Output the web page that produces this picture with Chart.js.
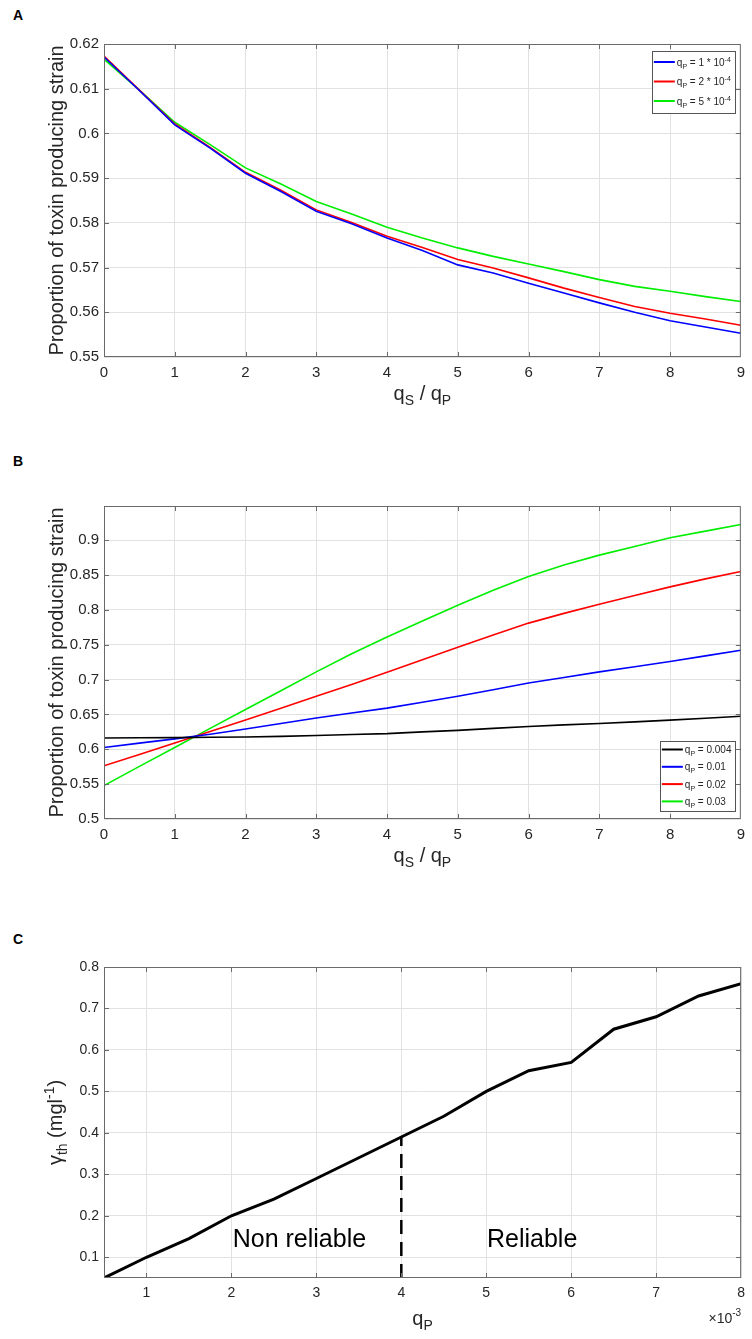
<!DOCTYPE html>
<html>
<head>
<meta charset="utf-8">
<script src="https://cdn.jsdelivr.net/npm/chart.js@4.4.1/dist/chart.umd.min.js"></script>
<style>
html,body{margin:0;padding:0;background:#fff;}
body{width:752px;height:1339px;position:relative;overflow:hidden;font-family:"Liberation Sans",Arial,sans-serif;}
.panel{position:absolute;left:0;width:752px;}
.letter{position:absolute;left:13px;font:bold 14px "Liberation Sans",Arial,sans-serif;color:#000;line-height:16px;}
</style>
</head>
<body>
<div class="letter" style="top:7px">A</div>
<div class="letter" style="top:453px">B</div>
<div class="letter" style="top:931px">C</div>
<div class="panel" style="top:0;height:410px"><canvas id="cA"></canvas></div>
<div class="panel" style="top:420px;height:455px"><canvas id="cB"></canvas></div>
<div class="panel" style="top:880px;height:459px"><canvas id="cC"></canvas></div>
<script>
// ---------------- DATA ----------------
// Panel A : proportion of toxin producing strain vs qS/qP
const ratioA = [0,0.5,1,1.5,2,2.5,3,3.5,4,4.5,5,5.5,6,6.5,7,7.5,8,8.5,9];
const propA_qP1 = [0.6171,0.6096,0.6019,0.5967,0.5911,0.5870,0.5826,0.5798,0.5766,0.5738,0.5706,0.5688,0.5665,0.5643,0.5621,0.5600,0.5581,0.5567,0.5553];
const propA_qP2 = [0.6173,0.6097,0.6021,0.5969,0.5913,0.5873,0.5829,0.5801,0.5770,0.5745,0.5718,0.5699,0.5677,0.5654,0.5633,0.5613,0.5598,0.5585,0.5571];
const propA_qP5 = [0.6166,0.6097,0.6025,0.5975,0.5923,0.5887,0.5848,0.5820,0.5790,0.5766,0.5744,0.5725,0.5708,0.5691,0.5673,0.5658,0.5647,0.5635,0.5624];
const xTicksAB = [0,1,2,3,4,5,6,7,8,9];
const yTicksA = [0.55,0.56,0.57,0.58,0.59,0.6,0.61,0.62];

// Panel B : proportion vs qS/qP for several qP
const ratioB = [0,0.5,1,1.5,2,2.5,3,3.5,4,4.5,5,5.5,6,6.5,7,7.5,8,8.5,9];
const propB_004 = [0.6162,0.6165,0.6168,0.6172,0.6176,0.6185,0.6198,0.6212,0.6225,0.6250,0.6272,0.6300,0.6328,0.6350,0.6370,0.6393,0.6418,0.6446,0.6474];
const propB_01  = [0.6025,0.6088,0.6150,0.6215,0.6290,0.6370,0.6450,0.6520,0.6590,0.6675,0.6760,0.6855,0.6950,0.7030,0.7110,0.7185,0.7260,0.7340,0.7420];
const propB_02  = [0.5764,0.5925,0.6090,0.6255,0.6420,0.6590,0.6760,0.6930,0.7105,0.7285,0.7465,0.7640,0.7810,0.7950,0.8080,0.8205,0.8330,0.8445,0.8550];
const propB_03  = [0.5480,0.5755,0.6025,0.6300,0.6570,0.6840,0.7110,0.7370,0.7610,0.7840,0.8065,0.8280,0.8480,0.8645,0.8785,0.8910,0.9035,0.9130,0.9225];
const yTicksB = [0.5,0.55,0.6,0.65,0.7,0.75,0.8,0.85,0.9];

// Panel C : gamma_th vs qP (x10^-3)
const qP_e3 = [0.5,1,1.5,2,2.5,3,3.5,4,4.5,5,5.5,6,6.5,7,7.5,8];
const gammaTh = [0.05,0.10,0.145,0.20,0.24,0.29,0.34,0.39,0.44,0.50,0.55,0.57,0.65,0.68,0.73,0.76];
const reliableThreshold = 4;
const xTicksC = [1,2,3,4,5,6,7,8];
const yTicksC = [0.1,0.2,0.3,0.4,0.5,0.6,0.7,0.8];

// ---------------- HELPERS ----------------
const FONT = '"Liberation Sans", Arial, Helvetica, sans-serif';
Chart.defaults.font.family = FONT;
Chart.defaults.color = '#262626';

const pts = (xs, ys) => xs.map((x, i) => ({x: x, y: ys[i]}));
const fmt = v => String(+Number(v).toFixed(3));

function richWidth(ctx, parts) {
  let w = 0;
  parts.forEach(p => { ctx.font = p[1] + 'px ' + FONT; w += ctx.measureText(p[0]).width; });
  return w;
}
function drawRich(ctx, parts, x, y, align) {
  const w = richWidth(ctx, parts);
  let cx = align === 'center' ? x - w / 2 : (align === 'right' ? x - w : x);
  ctx.textAlign = 'left';
  ctx.textBaseline = 'alphabetic';
  parts.forEach(p => {
    ctx.font = (p[3] || '') + p[1] + 'px ' + FONT;
    ctx.fillText(p[0], cx, y + (p[2] || 0));
    cx += ctx.measureText(p[0]).width;
  });
}

const framePlugin = {
  id: 'frame',
  afterDatasetsDraw(chart, args, o) {
    const ctx = chart.ctx, a = chart.chartArea, xs = chart.scales.x, ys = chart.scales.y;
    ctx.save();
    // inward ticks
    ctx.strokeStyle = '#6a6a6a';
    ctx.lineWidth = 1;
    ctx.beginPath();
    xs.ticks.forEach(t => {
      const px = Math.round(xs.getPixelForValue(t.value)) + 0.5;
      if (px <= a.left + 1 || px >= a.right - 1) return;
      ctx.moveTo(px, a.bottom); ctx.lineTo(px, a.bottom - 5);
      ctx.moveTo(px, a.top); ctx.lineTo(px, a.top + 5);
    });
    ys.ticks.forEach(t => {
      const py = Math.round(ys.getPixelForValue(t.value)) + 0.5;
      if (py <= a.top + 1 || py >= a.bottom - 1) return;
      ctx.moveTo(a.left, py); ctx.lineTo(a.left + 5, py);
      ctx.moveTo(a.right, py); ctx.lineTo(a.right - 5, py);
    });
    ctx.stroke();
    // box
    ctx.strokeRect(a.left + 0.5, a.top + 0.5, a.right - a.left - 1, a.bottom - a.top - 1);

    // legend
    if (o.legend) {
      const L = o.legend;
      const lx = a.right - L.dxRight - L.w;
      const ly = L.fromBottom ? a.bottom - L.dyBottom - L.h : a.top + L.dyTop;
      ctx.fillStyle = '#ffffff';
      ctx.fillRect(lx, ly, L.w, L.h);
      ctx.strokeStyle = '#555555';
      ctx.lineWidth = 1;
      ctx.strokeRect(Math.round(lx) + 0.5, Math.round(ly) + 0.5, L.w, L.h);
      L.items.forEach((it, i) => {
        const cy = ly + L.first + i * L.step;
        ctx.strokeStyle = it.color;
        ctx.lineWidth = 2;
        ctx.beginPath();
        ctx.moveTo(lx + 2, cy); ctx.lineTo(lx + 23, cy);
        ctx.stroke();
        ctx.fillStyle = '#262626';
        drawRich(ctx, it.parts, lx + 25, cy + 3.5, 'left');
      });
    }

    // axis titles
    ctx.fillStyle = '#262626';
    drawRich(ctx, o.xTitle, (a.left + a.right) / 2, o.xTitleY, 'center');
    if (o.exponent) drawRich(ctx, o.exponent, a.right, o.exponentY, 'right');
    if (o.notes) {
      ctx.fillStyle = '#000';
      o.notes.forEach(n => drawRich(ctx, [[n.text, n.size]], xs.getPixelForValue(n.x), ys.getPixelForValue(n.y), 'center'));
    }
    ctx.fillStyle = '#262626';
    ctx.translate(o.yTitleX, (a.top + a.bottom) / 2);
    ctx.rotate(-Math.PI / 2);
    drawRich(ctx, o.yTitle, 0, 0, 'center');
    ctx.restore();
  }
};

function makeOptions(cfg) {
  return {
    responsive: true,
    maintainAspectRatio: false,
    animation: false,
    events: [],
    layout: {padding: {top: cfg.padTop, right: 10, left: 0, bottom: 0}},
    elements: {point: {radius: 0}, line: {tension: 0}},
    plugins: {legend: {display: false}, tooltip: {enabled: false}, frame: cfg.frame},
    scales: {
      x: {
        type: 'linear', min: cfg.xMin, max: cfg.xMax,
        afterBuildTicks: s => { s.ticks = cfg.xTicks.map(v => ({value: v})); },
        afterFit: s => { s.height = cfg.xAxisH; },
        grid: {color: '#e2e2e2', drawTicks: false, lineWidth: 1},
        border: {display: false},
        ticks: {font: {size: cfg.tickSize}, padding: 7, color: '#262626', maxRotation: 0, callback: v => fmt(v)}
      },
      y: {
        type: 'linear', min: cfg.yMin, max: cfg.yMax,
        afterBuildTicks: s => { s.ticks = cfg.yTicks.map(v => ({value: v})); },
        afterFit: s => { s.width = 104; },
        grid: {color: '#e2e2e2', drawTicks: false, lineWidth: 1},
        border: {display: false},
        ticks: {font: {size: cfg.tickSize}, padding: 5, color: '#262626', callback: v => fmt(v)}
      }
    }
  };
}

const qSqP = [['q', 20], ['S', 14, 5], [' / q', 20], ['P', 14, 5]];
const propTitle = [['Proportion of toxin producing strain', 20]];
const qpLabel = (rest, sup) => {
  const p = [['q', 10], ['P', 7, 3], [rest, 10]];
  if (sup) p.push([sup, 7, -4]);
  return p;
};

// ---------------- PANEL A ----------------
new Chart(document.getElementById('cA'), {
  type: 'line',
  data: {datasets: [
    {data: pts(ratioA, propA_qP1), borderColor: '#0000ff', borderWidth: 1.6},
    {data: pts(ratioA, propA_qP2), borderColor: '#ff0000', borderWidth: 1.6},
    {data: pts(ratioA, propA_qP5), borderColor: '#00ee00', borderWidth: 1.6}
  ]},
  options: makeOptions({
    padTop: 44, xAxisH: 53, xMin: 0, xMax: 9, yMin: 0.55, yMax: 0.62,
    xTicks: xTicksAB, yTicks: yTicksA, tickSize: 15,
    frame: {
      xTitle: qSqP, xTitleY: 400, yTitle: propTitle, yTitleX: 63,
      legend: {w: 83, h: 62, dxRight: 6, dyTop: 7, first: 11, step: 19.5, items: [
        {color: '#0000ff', parts: qpLabel(' = 1 * 10', '-4')},
        {color: '#ff0000', parts: qpLabel(' = 2 * 10', '-4')},
        {color: '#00ee00', parts: qpLabel(' = 5 * 10', '-4')}
      ]}
    }
  }),
  plugins: [framePlugin]
});

// ---------------- PANEL B ----------------
new Chart(document.getElementById('cB'), {
  type: 'line',
  data: {datasets: [
    {data: pts(ratioB, propB_004), borderColor: '#000000', borderWidth: 1.6},
    {data: pts(ratioB, propB_01), borderColor: '#0000ff', borderWidth: 1.6},
    {data: pts(ratioB, propB_02), borderColor: '#ff0000', borderWidth: 1.6},
    {data: pts(ratioB, propB_03), borderColor: '#00ee00', borderWidth: 1.6}
  ]},
  options: makeOptions({
    padTop: 86, xAxisH: 56, xMin: 0, xMax: 9, yMin: 0.5, yMax: 0.949,
    xTicks: xTicksAB, yTicks: yTicksB, tickSize: 15,
    frame: {
      xTitle: qSqP, xTitleY: 442, yTitle: propTitle, yTitleX: 63,
      legend: {w: 75, h: 70, dxRight: 6, fromBottom: true, dyBottom: 8, first: 8.5, step: 17.3, items: [
        {color: '#000000', parts: qpLabel(' = 0.004')},
        {color: '#0000ff', parts: qpLabel(' = 0.01')},
        {color: '#ff0000', parts: qpLabel(' = 0.02')},
        {color: '#00ee00', parts: qpLabel(' = 0.03')}
      ]}
    }
  }),
  plugins: [framePlugin]
});

// ---------------- PANEL C ----------------
const thrIdx = qP_e3.indexOf(reliableThreshold);
new Chart(document.getElementById('cC'), {
  type: 'line',
  data: {datasets: [
    {data: pts(qP_e3, gammaTh), borderColor: '#000000', borderWidth: 3},
    {data: [{x: reliableThreshold, y: 0.05}, {x: reliableThreshold, y: gammaTh[thrIdx]}],
     borderColor: '#000000', borderWidth: 2.5, borderDash: [14, 8]}
  ]},
  options: makeOptions({
    padTop: 87, xAxisH: 61, xMin: 0.5, xMax: 8, yMin: 0.05, yMax: 0.8,
    xTicks: xTicksC, yTicks: yTicksC, tickSize: 14,
    frame: {
      xTitle: [['q', 20], ['P', 14, 5]], xTitleY: 445,
      yTitle: [['\u03B3', 20], ['th', 14, 5], [' (mgl', 20], ['-1', 14, -8], [')', 20]], yTitleX: 62,
      exponent: [['\u00D710', 14], ['-3', 10, -7]], exponentY: 443,
      notes: [
        {text: 'Non reliable', size: 25, x: 2.8, y: 0.124},
        {text: 'Reliable', size: 25, x: 5.54, y: 0.124}
      ]
    }
  }),
  plugins: [framePlugin]
});
</script>
</body>
</html>
